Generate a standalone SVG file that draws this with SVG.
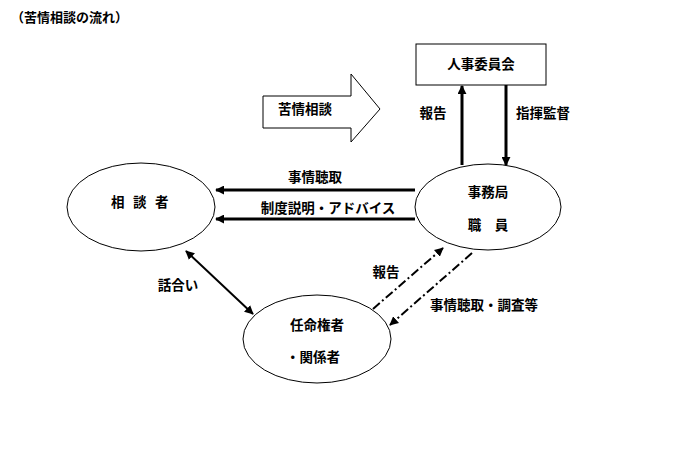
<svg xmlns="http://www.w3.org/2000/svg" width="686" height="466" viewBox="0 0 686 466">
<style>
text{font-family:"Noto Sans CJK JP","Noto Sans CJK SC",sans-serif;font-weight:bold;font-size:13.5px;fill:#000}
.shape{fill:#fff;stroke:#000;stroke-width:1}
.thick{stroke:#000;stroke-width:3;fill:none}
.mid{stroke:#000;stroke-width:2;fill:none}
.dd{stroke:#000;stroke-width:2;fill:none;stroke-dasharray:9 3 2 3}
</style>
<defs>
<marker id="ah" viewBox="0 0 10 10" refX="9" refY="5" markerWidth="3" markerHeight="3" orient="auto-start-reverse" markerUnits="strokeWidth"><path d="M0,0 L10,5 L0,10 z" fill="#000"/></marker>
<marker id="ah2" viewBox="0 0 10 10" refX="9" refY="5" markerWidth="4.5" markerHeight="4.5" orient="auto-start-reverse" markerUnits="strokeWidth"><path d="M0,0 L10,5 L0,10 z" fill="#000"/></marker>
</defs>
<rect width="686" height="466" fill="#fff"/>
<text x="11" y="22" style="font-size:13px">（苦情相談の流れ）</text>

<g id="jinji">
<rect class="shape" x="416" y="44" width="130" height="41"/>
<text x="481" y="69" text-anchor="middle">人事委員会</text>
</g>

<g id="kujo-arrow">
<path class="shape" d="M263,96 H351 V74 L380,109 L351,142 V128 H263 Z"/>
<text x="305" y="114" text-anchor="middle">苦情相談</text>
</g>

<g id="sodansha">
<ellipse class="shape" cx="141" cy="207" rx="74" ry="44"/>
<text x="111" y="207">相</text>
<text x="133" y="207">談</text>
<text x="155" y="207">者</text>
</g>

<g id="jimukyoku">
<ellipse class="shape" cx="488" cy="207" rx="73" ry="43"/>
<text x="488" y="197" text-anchor="middle">事務局</text>
<text x="488" y="230" text-anchor="middle" xml:space="preserve">職　員</text>
</g>

<g id="ninmei">
<ellipse class="shape" cx="317" cy="339" rx="74" ry="44"/>
<text x="317" y="330" text-anchor="middle">任命権者</text>
<text x="313" y="362" text-anchor="middle">・関係者</text>
</g>

<g id="connectors">
<line class="thick" x1="462" y1="165" x2="462" y2="86" marker-end="url(#ah)"/>
<line class="thick" x1="506" y1="85" x2="506" y2="165" marker-end="url(#ah)"/>
<line class="thick" x1="415" y1="190" x2="216" y2="190" marker-end="url(#ah)"/>
<line class="thick" x1="415" y1="219" x2="216" y2="219" marker-end="url(#ah)"/>
<line class="mid" x1="186" y1="251" x2="253" y2="314" marker-start="url(#ah2)" marker-end="url(#ah2)"/>
<line class="dd" x1="373" y1="309" x2="443" y2="248" marker-end="url(#ah2)"/>
<line class="dd" x1="472" y1="253" x2="390" y2="325" marker-end="url(#ah2)"/>
</g>

<g id="labels">
<text x="433" y="118" text-anchor="middle">報告</text>
<text x="543" y="118" text-anchor="middle">指揮監督</text>
<text x="315" y="182" text-anchor="middle">事情聴取</text>
<text x="328" y="213" text-anchor="middle">制度説明・アドバイス</text>
<text x="178" y="290" text-anchor="middle">話合い</text>
<text x="386" y="277" text-anchor="middle">報告</text>
<text x="484" y="310" text-anchor="middle">事情聴取・調査等</text>
</g>
</svg>
